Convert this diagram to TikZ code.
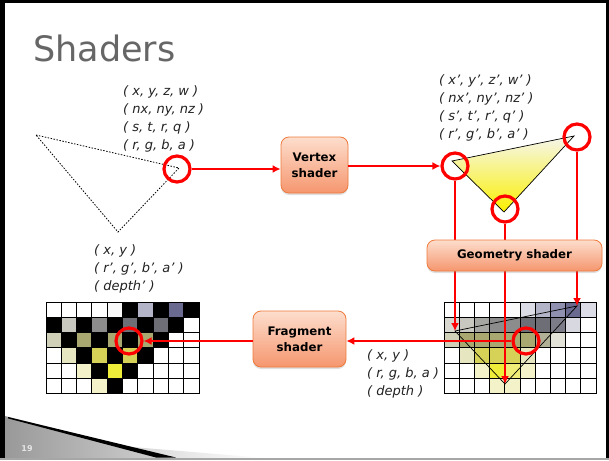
\documentclass[tikz,border=0pt]{standalone}
\usepackage{fontspec}
\setmainfont{DejaVu Sans}[ItalicFont={DejaVu Sans Oblique},BoldFont={DejaVu Sans Bold}]
\usetikzlibrary{arrows.meta,shadows}
\definecolor{gW}{HTML}{FFFFFF}
\definecolor{gK}{HTML}{000000}
\definecolor{gA}{HTML}{F9F9F9}
\definecolor{gLav}{HTML}{B4B4C8}
\definecolor{gLavL}{HTML}{DCDCE6}
\definecolor{gLavM}{HTML}{9090B0}
\definecolor{gSlate}{HTML}{6A6A90}
\definecolor{gLg}{HTML}{C8C8C0}
\definecolor{gLg2}{HTML}{D8D8D0}
\definecolor{gMg}{HTML}{8C8C8C}
\definecolor{gMg2}{HTML}{A6A6A2}
\definecolor{gDg}{HTML}{6E6E76}
\definecolor{gDg2}{HTML}{7C7C88}
\definecolor{gLb}{HTML}{D8D8E0}
\definecolor{gKh}{HTML}{D0D0B8}
\definecolor{gOl}{HTML}{A8A870}
\definecolor{gOl2}{HTML}{B0B096}
\definecolor{gPk}{HTML}{E6E6C0}
\definecolor{gPk2}{HTML}{E2E2D8}
\definecolor{gYo}{HTML}{D6D258}
\definecolor{gPy}{HTML}{F4F2C8}
\definecolor{gBy}{HTML}{EEEE3A}
\definecolor{gMy}{HTML}{F0EC78}
\definecolor{boxtop}{HTML}{FDDECD}
\definecolor{boxbot}{HTML}{F5966E}
\definecolor{boxline}{HTML}{EE7A3C}
\definecolor{sred}{HTML}{FF0000}
\definecolor{txt}{HTML}{222222}
\definecolor{ttl}{HTML}{666666}
\tikzset{
  lbl/.style={font=\fontsize{13}{18}\selectfont\itshape, text=txt, align=left, inner sep=0pt, anchor=north west},
  shaderbox/.style={rounded corners=8pt, draw=boxline, line width=0.8pt, top color=boxtop, bottom color=boxbot,
    font=\fontsize{11.8}{16}\selectfont\bfseries, align=center, inner sep=0pt,
    drop shadow={opacity=0.25, shadow xshift=0pt, shadow yshift=-2pt}},
  redline/.style={draw=sred, line width=2.8pt},
  redarrow/.style={redline, -{Latex[length=8pt,width=8pt]}},
  redcirc/.style={circle, draw=sred, line width=3.2pt, minimum size=26pt, inner sep=0pt},
  cellgrid/.style={line width=1pt, draw=black}
}
\begin{document}
\begin{tikzpicture}[x=1pt,y=-1pt]
\useasboundingbox (0,0) rectangle (609,460);
\fill[white] (0,0) rectangle (609,460);

% bottom-left decoration
\shade[left color=gray!80, right color=gray!35] (5,416) -- (172,458) -- (5,458) -- cycle;
\shade[left color=gray!35, right color=white] (120,446) -- (265,458) -- (172,458) -- cycle;
\fill[black] (8,417) -- (176,457.5) -- (156,457.5) -- (8,418.4) -- cycle;
\node[font=\fontsize{8}{8}\selectfont\bfseries, text=white!80!gray, inner sep=0pt] (pg) at (27,449) {19};

% frame
\draw[line width=5pt] (2.5,0) -- (2.5,460);
\draw[line width=3pt] (0,1.5) -- (609,1.5);
\draw[line width=3pt] (607.5,0) -- (607.5,458);
\draw[line width=2pt, draw=gray!70] (0,458.5) -- (609,458.5);

% title
\node[anchor=base west, inner sep=0pt, font=\fontsize{35}{35}\selectfont, text=ttl] (title) at (33,61) {Shaders};

% labels
\node[lbl] (l1) at (123,85) {( x, y, z, w )\\( nx, ny, nz )\\( s, t, r, q )\\( r, g, b, a )};
\node[lbl] (l2) at (439,74) {( x’, y’, z’, w’ )\\( nx’, ny’, nz’ )\\( s’, t’, r’, q’ )\\( r’, g’, b’, a’ )};
\node[lbl] (l3) at (94,244) {( x, y )\\( r’, g’, b’, a’ )\\( depth’ )};
\node[lbl] (l4) at (367,349) {( x, y )\\( r, g, b, a )\\( depth )};

% left dotted triangle
\coordinate (p1) at (36,135);
\coordinate (p2) at (179,168);
\coordinate (p3) at (118,232);
\draw[dash pattern=on 1.5pt off 1.5pt, line width=0.8pt] (p1) -- (p2) -- (p3) -- cycle;

% right shaded triangle
\coordinate (q1) at (452,161);
\coordinate (q2) at (574,136);
\coordinate (q3) at (504,212);
\shade[top color={rgb,255:red,246;green,246;blue,238}, middle color={rgb,255:red,250;green,246;blue,185}, bottom color={rgb,255:red,250;green,240;blue,0}] (q1) -- (q2) -- (q3) -- cycle;
\draw[line width=0.7pt] (q1) -- (q2) -- (q3) -- cycle;

% left grid
\foreach \row [count=\r from 0] in {
  {gW,gW,gW,gW,gA,gK,gLav,gK,gSlate,gK},
  {gK,gLg,gK,gMg,gK,gDg,gK,gDg,gK,gW},
  {gKh,gK,gOl,gK,gOl,gK,gOl,gK,gW,gW},
  {gW,gPk,gK,gYo,gK,gYo,gK,gW,gW,gW},
  {gW,gW,gPy,gK,gBy,gK,gW,gW,gW,gW},
  {gW,gW,gW,gPy,gK,gW,gW,gW,gW,gW}} {
  \foreach \c [count=\k from 0] in \row {
    \fill[\c] (46+\k*15.3, 302+\r*15.33) rectangle ++(15.3,15.33);
  }
}
\foreach \i in {0,...,10} \draw[cellgrid] (46+\i*15.3,302) -- (46+\i*15.3,394);
\foreach \j in {0,...,6} \draw[cellgrid] (46,302+\j*15.33) -- (199,302+\j*15.33);

% right grid
\foreach \row [count=\r from 0] in {
  {gW,gW,gW,gW,gA,gLavL,gLav,gLavM,gSlate,gLavL},
  {gLg2,gLg,gMg2,gMg,gMg,gDg,gDg,gDg2,gLb,gW},
  {gKh,gOl,gOl,gOl,gOl,gOl,gOl2,gPk2,gW,gW},
  {gW,gPk,gYo,gYo,gYo,gPk,gW,gW,gW,gW},
  {gW,gW,gPy,gBy,gMy,gPy,gW,gW,gW,gW},
  {gW,gW,gW,gPy,gPy,gW,gW,gW,gW,gW}} {
  \foreach \c [count=\k from 0] in \row {
    \fill[\c] (444+\k*15.2, 302+\r*15.33) rectangle ++(15.2,15.33);
  }
}
\foreach \i in {0,...,10} \draw[cellgrid] (444+\i*15.2,302) -- (444+\i*15.2,394);
\foreach \j in {0,...,6} \draw[cellgrid] (444,302+\j*15.33) -- (596,302+\j*15.33);

% triangle in right grid
\coordinate (ta) at (455,331);
\coordinate (tc) at (577,306);
\coordinate (tb) at (505,384);
\draw[line width=0.7pt] (ta) -- (tc) -- (tb) -- cycle;

% shader boxes
\node[shaderbox, minimum width=67pt, minimum height=56pt] (vs) at (314.5,165) {Vertex\\shader};
\node[shaderbox, minimum width=93pt, minimum height=56pt] (fs) at (299.5,339) {Fragment\\shader};

% red circles
\node[redcirc] (c1) at (177,169) {};
\node[redcirc] (ca) at (455,166) {};
\node[redcirc] (cb) at (505,209) {};
\node[redcirc] (cc) at (577,137) {};
\node[redcirc] (cr) at (526,341) {};
\node[redcirc] (cl) at (129,341) {};

% red connectors
\draw[redarrow] (c1) -- (c1 -| vs.west);
\draw[redarrow] (vs.east |- ca) -- (ca);
\draw[redarrow] (ca) -- (ta);
\draw[redarrow] (cb) -- (tb);
\draw[redarrow] (cc) -- (tc);
\draw[redarrow] (cr) -- (cr -| fs.east);
\draw[redarrow] (fs.west |- cr) -- (cl);

% geometry shader box
\node[shaderbox, minimum width=175pt, minimum height=31pt] (gs) at (514.5,255.5) {Geometry shader};
\end{tikzpicture}
\end{document}
